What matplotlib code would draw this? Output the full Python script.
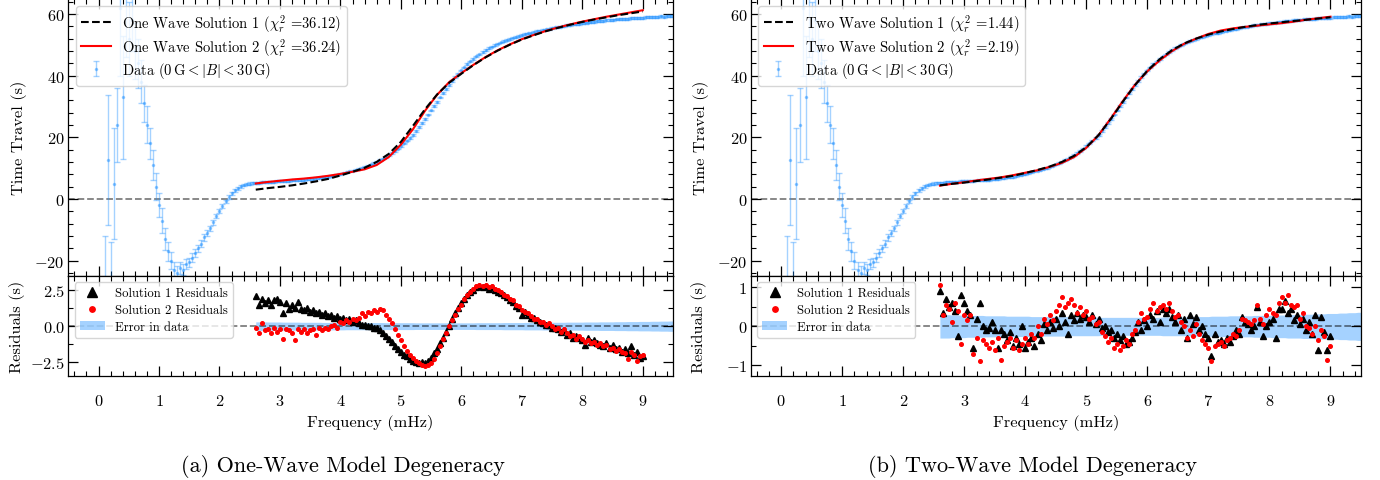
import numpy as np
import matplotlib
matplotlib.use("Agg")
import matplotlib.pyplot as plt
from matplotlib.ticker import MultipleLocator
from matplotlib.patches import Patch

plt.rcParams.update({
    "font.family": "serif",
    "font.serif": ["cmr10"],
    "mathtext.fontset": "cm",
    "axes.formatter.use_mathtext": True,
    "axes.unicode_minus": True,
    "font.size": 11.8,
})

# ---------------- data ----------------
# measured travel time, sampled every 0.05 mHz from 0.10 to 9.50 mHz
freq = np.round(np.arange(10, 951, 5) / 100.0, 2)
travel = [
    -31, 12.6, -35, 4.9, 24, 62, 33, 70, 52, 58,
    48, 44, 38, 31, 24, 18, 11, 4, -2, -7,
    -13, -17, -20, -23, -24, -22.5, -23, -21, -20.5, -19,
    -17.5, -16, -14.5, -12.5, -11, -9.5, -7.5, -5.5, -4, -2.3,
    -0.8, 0.6, 1.8, 2.8, 3.5, 4.1, 4.5, 4.8, 5.0, 5.2,
    5.3, 5.2, 5.4, 5.4, 5.5, 5.6, 5.6, 5.7, 5.7, 5.8,
    5.9, 5.8, 6.0, 6.1, 6.1, 6.2, 6.2, 6.4, 6.5, 6.5,
    6.7, 6.8, 7.0, 7.1, 7.2, 7.4, 7.6, 7.9, 8.0, 8.3,
    8.6, 8.9, 9.2, 9.5, 9.8, 10.1, 10.5, 10.8, 11.2, 11.7,
    12.1, 12.6, 13.1, 13.6, 14.2, 14.9, 15.6, 16.3, 17.1, 18.0,
    18.9, 19.8, 20.8, 22.0, 23.3, 24.6, 25.9, 27.3, 28.7, 30.1,
    31.5, 32.9, 34.3, 35.7, 37.0, 38.3, 39.5, 40.6, 41.7, 42.7,
    43.7, 44.6, 45.4, 46.2, 46.9, 47.6, 48.3, 48.9, 49.4, 49.9,
    50.4, 50.8, 51.2, 51.6, 51.9, 52.3, 52.6, 52.9, 53.2, 53.4,
    53.7, 53.9, 54.2, 54.4, 54.6, 54.8, 55.0, 55.2, 55.4, 55.6,
    55.8, 55.9, 56.1, 56.3, 56.4, 56.6, 56.7, 56.8, 57.0, 57.1,
    57.2, 57.4, 57.5, 57.6, 57.7, 57.8, 57.9, 58.0, 58.1, 58.2,
    58.3, 58.4, 58.4, 58.5, 58.6, 58.6, 58.7, 58.8, 58.8, 58.9,
    59.0, 58.9, 59.1, 59.0, 59.2, 59.1, 59.3, 59.2, 59.3,
]
travel_err = [
    19, 21, 21, 18, 12, 22, 20, 24, 12, 10,
    9, 8, 7, 6, 6, 5, 5, 4.5, 4, 4,
    3.5, 3, 2.8, 2.5, 2.2, 2, 1.8, 1.6, 1.5, 1.4,
    1.3, 1.2, 1.1, 1.0, 0.9, 0.85, 0.8, 0.75, 0.7, 0.65,
    0.6, 0.55, 0.5, 0.48, 0.45, 0.42, 0.4, 0.38, 0.36, 0.34,
    0.30, 0.30, 0.30, 0.30, 0.29, 0.29, 0.29, 0.29, 0.29, 0.28,
    0.28, 0.28, 0.28, 0.28, 0.28, 0.27, 0.27, 0.27, 0.27, 0.27,
    0.27, 0.27, 0.26, 0.26, 0.26, 0.26, 0.26, 0.26, 0.26, 0.26,
    0.25, 0.25, 0.25, 0.25, 0.25, 0.25, 0.25, 0.25, 0.25, 0.25,
    0.25, 0.25, 0.25, 0.24, 0.24, 0.24, 0.24, 0.24, 0.24, 0.24,
    0.24, 0.24, 0.24, 0.23, 0.23, 0.23, 0.23, 0.23, 0.23, 0.23,
    0.23, 0.23, 0.23, 0.23, 0.23, 0.23, 0.23, 0.23, 0.23, 0.23,
    0.23, 0.23, 0.23, 0.24, 0.24, 0.24, 0.24, 0.24, 0.24, 0.24,
    0.24, 0.24, 0.25, 0.25, 0.25, 0.25, 0.25, 0.25, 0.25, 0.26,
    0.26, 0.26, 0.26, 0.26, 0.26, 0.27, 0.27, 0.27, 0.27, 0.27,
    0.27, 0.27, 0.27, 0.28, 0.28, 0.28, 0.28, 0.28, 0.28, 0.29,
    0.29, 0.29, 0.29, 0.29, 0.30, 0.30, 0.30, 0.30, 0.30, 0.31,
    0.31, 0.31, 0.31, 0.32, 0.32, 0.32, 0.32, 0.33, 0.33, 0.33,
    0.33, 0.34, 0.34, 0.34, 0.35, 0.35, 0.35, 0.36, 0.36,
]

# model curves, 2.6 .. 9.0 mHz every 0.2 mHz
model_freq = np.round(np.arange(260, 901, 20) / 100.0, 2)
one_wave_sol1 = [3.0, 3.5, 3.9, 4.4, 5.0, 5.7, 6.5, 7.6, 8.8, 10.1, 12.0, 14.6, 18.5,
                 23.7, 29.1, 33.9, 37.7, 40.6, 43.4, 45.9, 48.1, 50.0, 51.7, 53.1,
                 54.4, 55.5, 56.5, 57.4, 58.2, 58.9, 59.6, 60.2, 60.8]
one_wave_sol2 = [5.0, 5.5, 5.9, 6.3, 6.6, 7.0, 7.5, 8.1, 8.8, 9.6, 11.0, 13.6, 17.6,
                 22.6, 28.6, 33.8, 37.9, 40.8, 43.5, 46.0, 48.2, 50.1, 51.8, 53.2,
                 54.5, 55.6, 56.6, 57.5, 58.3, 59.1, 59.8, 60.5, 61.2]
two_wave_sol1 = [4.4, 4.9, 5.3, 5.8, 6.3, 6.9, 7.5, 8.4, 9.4, 10.5, 12.0, 14.0, 16.8,
                 20.7, 25.9, 31.6, 37.0, 41.6, 45.3, 48.2, 50.4, 52.0, 53.3, 54.3,
                 55.1, 55.8, 56.4, 56.9, 57.3, 57.7, 58.1, 58.5, 58.9]
two_wave_sol2 = [4.3, 4.9, 5.4, 6.0, 6.5, 7.0, 7.7, 8.5, 9.3, 10.4, 11.7, 13.6, 16.6,
                 20.7, 26.1, 31.8, 37.1, 41.4, 44.9, 47.9, 50.3, 52.0, 53.5, 54.6,
                 55.3, 55.8, 56.2, 56.6, 57.0, 57.5, 58.1, 58.6, 59.1]

# residuals, 2.60 .. 9.00 mHz every 0.05 mHz
res_freq = np.round(np.arange(260, 901, 5) / 100.0, 2)
one_res1 = [
    2.1, 1.5, 1.9, 1.6, 1.8, 1.5, 1.8, 1.9, 1.7, 0.9,
    1.6, 1.2, 1.5, 1.3, 1.7, 1.2, 1.1, 1.3, 1.0, 1.1,
    0.9, 1.0, 0.8, 0.9, 0.7, 0.8, 0.6, 0.7, 0.5, 0.6,
    0.4, 0.5, 0.3, 0.4, 0.2, 0.1, 0.1, 0.0, 0.0, -0.1,
    -0.1, -0.3, -0.5, -0.7, -0.9, -1.1, -1.4, -1.6, -1.8, -2.0,
    -2.1, -2.3, -2.4, -2.5, -2.6, -2.5, -2.6, -2.4, -2.2, -1.9,
    -1.6, -1.2, -0.8, -0.4, 0.0, 0.5, 0.9, 1.3, 1.6, 1.9,
    2.2, 2.4, 2.5, 2.7, 2.8, 2.7, 2.8, 2.6, 2.7, 2.5,
    2.4, 2.3, 2.2, 2.0, 1.8, 1.7, 1.4, 1.3, 0.8, 1.0,
    0.8, 0.6, 0.6, 0.4, 0.3, 0.2, 0.1, 0.1, -0.1, -0.1,
    -0.2, -0.4, -0.3, -0.6, -0.5, -0.8, -0.7, -0.8, -1.0, -1.3,
    -0.8, -1.1, -1.0, -1.2, -1.3, -1.4, -1.2, -1.5, -1.3, -1.6,
    -1.5, -1.8, -1.6, -1.9, -1.4, -2.0, -1.8, -2.2, -2.1,
]
one_res2 = [
    -0.1, -0.5, 0.2, -0.3, -0.2, -0.5, -0.1, -0.4, -0.2, -0.9,
    -0.2, -0.3, -0.5, -1.0, -0.2, -0.4, -0.2, -0.5, -0.3, -0.2,
    -0.6, -0.1, -0.3, -0.1, -0.2, 0.0, 0.1, -0.1, 0.3, 0.2,
    0.4, 0.3, 0.5, 0.4, 0.6, 0.9, 0.7, 1.0, 0.9, 1.1,
    1.0, 1.2, 1.1, 0.8, 0.5, 0.2, -0.2, -0.6, -1.0, -1.4,
    -1.7, -2.0, -2.2, -2.4, -2.6, -2.7, -2.8, -2.7, -2.6, -2.3,
    -1.9, -1.4, -0.9, -0.5, 0.0, 0.4, 0.8, 1.2, 1.5, 1.9,
    2.2, 2.4, 2.6, 2.8, 2.9, 2.8, 2.9, 2.7, 2.8, 2.6,
    2.5, 2.4, 2.2, 2.1, 1.9, 1.8, 1.5, 1.4, 1.1, 1.0,
    0.9, 0.7, 0.5, 0.5, 0.3, 0.3, 0.1, 0.2, 0.0, -0.2,
    -0.1, -0.4, -0.2, -0.5, -0.7, -0.6, -0.9, -0.7, -0.9, -1.1,
    -1.0, -1.2, -1.1, -1.3, -1.2, -1.4, -1.3, -1.6, -1.5, -1.7,
    -1.6, -1.8, -1.9, -2.3, -1.8, -2.0, -2.4, -2.1, -2.0,
]
two_res1 = [
    0.9, 0.35, 0.7, 0.5, 0.6, 0.4, -0.25, 0.8, 0.6, 0.4,
    0.3, -0.55, 0.2, 0.6, 0.0, -0.1, -0.05, 0.1, -0.1, -0.55,
    -0.1, -0.2, -0.35, -0.15, -0.5, -0.3, -0.45, 0.0, -0.55, -0.4,
    -0.3, -0.5, -0.2, -0.35, 0.05, -0.1, 0.1, -0.05, 0.2, 0.0,
    0.35, 0.1, -0.2, 0.3, 0.15, 0.35, 0.2, 0.3, 0.25, 0.1,
    0.3, 0.05, 0.2, -0.05, 0.0, -0.15, -0.1, -0.3, -0.2, -0.35,
    -0.25, -0.45, -0.4, -0.3, -0.15, 0.1, -0.1, 0.15, 0.0, 0.3,
    0.2, 0.4, 0.1, 0.45, 0.35, 0.45, 0.25, 0.1, 0.3, -0.1,
    0.2, -0.3, 0.3, 0.05, 0.25, -0.1, 0.0, -0.2, -0.3, -0.75,
    -0.2, -0.4, -0.35, -0.45, -0.3, -0.4, -0.25, -0.1, -0.2, 0.25,
    0.1, 0.05, -0.1, 0.0, 0.5, 0.1, -0.25, 0.0, 0.1, 0.2,
    -0.3, 0.45, 0.45, 0.65, 0.35, 0.45, 0.15, 0.3, 0.05, 0.2,
    -0.1, 0.1, -0.2, 0.3, -0.6, 0.25, -0.15, -0.6, -0.25,
]
two_res2 = [
    1.05, 0.3, 0.55, 0.45, 0.1, 0.6, 0.4, -0.45, 0.3, 0.15,
    0.3, -0.7, -0.3, -0.88, -0.35, -0.45, -0.55, -0.4, -0.6, -0.3,
    -0.85, -0.5, -0.4, -0.3, -0.55, -0.35, -0.6, -0.45, -0.3, -0.45,
    -0.2, -0.3, 0.0, -0.2, 0.2, 0.05, 0.3, 0.15, 0.4, 0.55,
    0.75, 0.5, 0.6, 0.7, 0.55, 0.35, 0.5, 0.3, 0.4, 0.2,
    0.25, 0.05, 0.1, -0.15, -0.25, -0.4, -0.3, -0.55, -0.45, -0.6,
    -0.5, -0.35, -0.45, -0.2, -0.1, 0.1, 0.35, 0.2, 0.25, 0.45,
    0.6, 0.4, 0.5, 0.55, 0.45, 0.6, 0.4, 0.25, 0.3, 0.1,
    0.0, -0.3, -0.1, -0.25, 0.05, -0.2, -0.35, -0.45, -0.55, -0.9,
    -0.5, -0.45, -0.4, -0.5, -0.35, -0.3, -0.2, -0.25, -0.1, 0.2,
    0.15, 0.1, 0.05, 0.15, 0.55, 0.2, 0.05, 0.3, 0.45, 0.35,
    0.3, 0.6, 0.75, 0.6, 0.8, 0.55, 0.5, 0.55, 0.2, 0.35,
    0.0, -0.05, -0.2, 0.0, -0.35, -0.1, -0.25, -0.85, -0.5,
]

panels = [
    dict(name="One Wave", chi=("36.12", "36.24"), sols=(one_wave_sol1, one_wave_sol2),
         res=(one_res1, one_res2), rlim=(-3.5, 3.5), rmaj=2.5, rmin=1.25,
         caption="(a) One-Wave Model Degeneracy"),
    dict(name="Two Wave", chi=("1.44", "2.19"), sols=(two_wave_sol1, two_wave_sol2),
         res=(two_res1, two_res2), rlim=(-1.28, 1.29), rmaj=1, rmin=0.5,
         caption="(b) Two-Wave Model Degeneracy"),
]

# ---------------- figure ----------------
W, H = 1380, 481
fig = plt.figure(figsize=(W / 100, H / 100), dpi=100)


def frac(x0, x1, y0, y1):
    return [x0 / W, 1 - y1 / H, (x1 - x0) / W, (y1 - y0) / H]


xspans = [(68.3, 673.0), (750.7, 1361.0)]
cap_x = [343, 1032]

freq_a = np.asarray(freq)
travel_a = np.asarray(travel)
err_a = np.asarray(travel_err)
band = freq_a >= 2.599
blue = "dodgerblue"


def style(ax):
    ax.tick_params(which="both", direction="in", top=True, right=True)
    ax.tick_params(which="major", length=7, width=0.9)
    ax.tick_params(which="minor", length=3.5, width=0.8)
    for s in ax.spines.values():
        s.set_linewidth(0.9)


for p, (x0, x1), cx in zip(panels, xspans, cap_x):
    at = fig.add_axes(frac(x0, x1, -0.5, 277))
    ab = fig.add_axes(frac(x0, x1, 277, 377.3), sharex=at)

    at.errorbar(freq_a, travel_a, yerr=err_a, fmt=".", ms=3, color=blue, alpha=0.4,
                elinewidth=1, capsize=2.5, capthick=1, zorder=2,
                label=r"Data ($0\,\mathrm{G} < |B| < 30\,\mathrm{G}$)")
    at.plot(model_freq, p["sols"][0], "k--", lw=1.5, zorder=4,
            label=p["name"] + r" Solution 1 ($\chi_r^2$ =" + p["chi"][0] + ")")
    at.plot(model_freq, p["sols"][1], "r-", lw=1.5, zorder=3,
            label=p["name"] + r" Solution 2 ($\chi_r^2$ =" + p["chi"][1] + ")")
    at.axhline(0, color="k", ls="--", lw=1.3, alpha=0.5, zorder=1)
    at.set_xlim(-0.5, 9.5)
    at.set_ylim(-25, 65)
    at.yaxis.set_major_locator(MultipleLocator(20))
    at.yaxis.set_minor_locator(MultipleLocator(4))
    at.xaxis.set_major_locator(MultipleLocator(1))
    at.xaxis.set_minor_locator(MultipleLocator(0.2))
    style(at)
    at.tick_params(labelbottom=False, pad=2.5)
    at.set_ylabel("Time Travel (s)")
    at.yaxis.set_label_coords(-0.068, 0.5)
    at.legend(loc="upper left", fontsize=10.5, labelspacing=0.15)

    ab.fill_between(freq_a[band], -err_a[band], err_a[band], color=blue, alpha=0.4,
                    lw=0, zorder=1, label="Error in data")
    ab.axhline(0, color="k", ls="--", lw=1.3, alpha=0.5, zorder=2)
    l1, = ab.plot(res_freq, p["res"][0], "k^", ms=4.5, zorder=3, label="Solution 1 Residuals")
    l2, = ab.plot(res_freq, p["res"][1], "ro", ms=2.6, zorder=4, label="Solution 2 Residuals")
    ab.set_ylim(*p["rlim"])
    ab.yaxis.set_major_locator(MultipleLocator(p["rmaj"]))
    ab.yaxis.set_minor_locator(MultipleLocator(p["rmin"]))
    style(ab)
    ab.tick_params(axis="x", pad=12)
    ab.tick_params(axis="y", pad=2.5)
    ab.set_xlabel("Frequency (mHz)", labelpad=4)
    ab.set_ylabel("Residuals (s)")
    ab.yaxis.set_label_coords(-0.072, 0.5)
    ab.legend(handles=[l1, l2, Patch(color=blue, alpha=0.4, lw=0)],
              labels=["Solution 1 Residuals", "Solution 2 Residuals", "Error in data"],
              loc="upper left", fontsize=9.1, markerscale=1.5, labelspacing=0.35)

    fig.text(cx / W, 1 - 466 / H, p["caption"], ha="center", va="center", fontsize=16)

fig.savefig("out.png", dpi=100)
